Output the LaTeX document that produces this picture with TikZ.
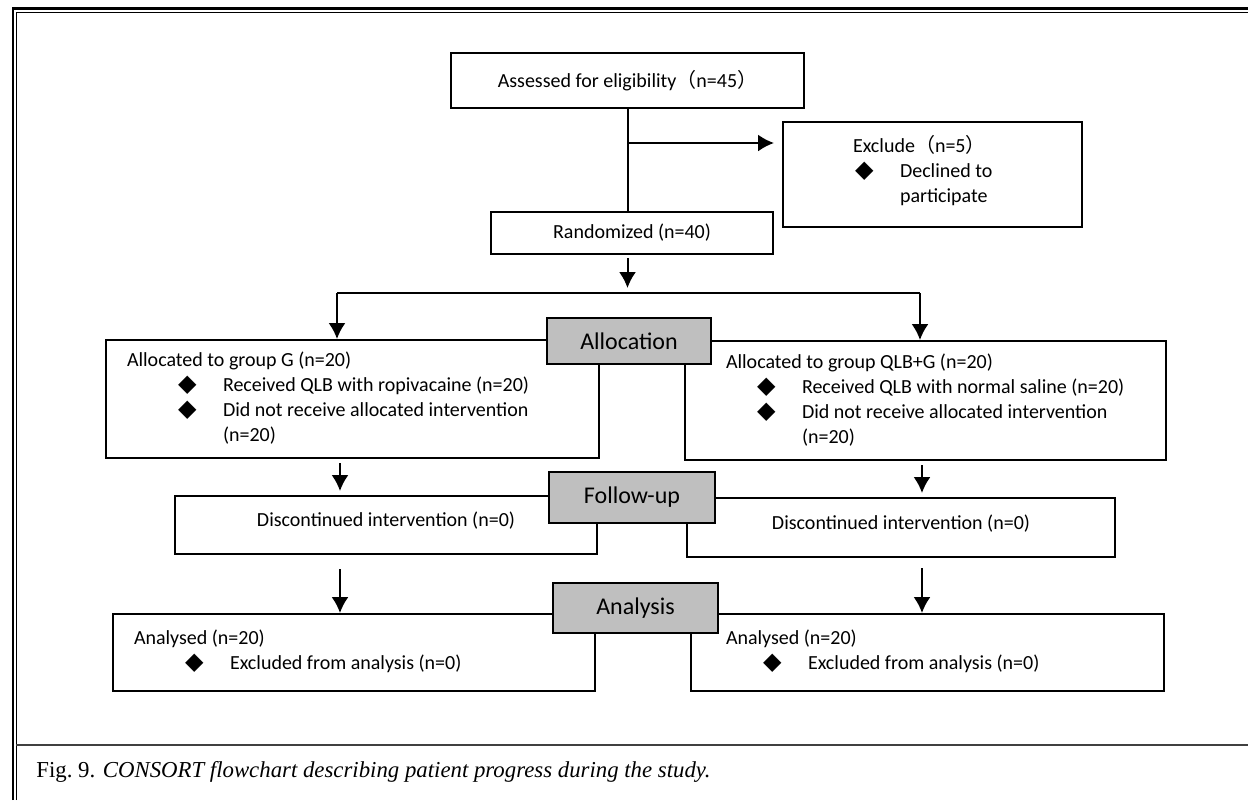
\documentclass[tikz,border=0pt]{standalone}
\usepackage{fontspec}
\setmainfont{Carlito}
\newfontfamily\capfont{Liberation Serif}
\newfontfamily\symfont{DejaVu Sans}
\newfontfamily\cjkfont{Noto Sans CJK SC}
\usepackage{tikz}
\usetikzlibrary{arrows.meta}
\definecolor{stagegray}{gray}{0.75}
\newcommand{\dia}[1]{\hspace*{#1}{\symfont\fontsize{12}{12.5}\selectfont ◆}}
\newcommand{\lp}{{\cjkfont （}}
\newcommand{\rp}{{\cjkfont ）}}

\begin{document}
\begin{tikzpicture}[x=0.5pt,y=-0.5pt,
box/.style={draw,line width=1pt,anchor=north west,inner sep=0pt,font=\fontsize{10}{12.5}\selectfont},
lbox/.style={box,align=left,execute at begin node={\spaceskip=0pt\xspaceskip=0pt\relax}},
stage/.style={draw,line width=1pt,fill=stagegray,anchor=north west,inner sep=0pt,font=\fontsize{12}{14}\selectfont},
edge/.style={-{Latex[length=8pt,width=8.5pt]},line width=1pt}]

\useasboundingbox (0,0) rectangle (1248,800);

% frame
\draw[line width=1.3pt] (13,800) -- (13,8.5) -- (1248,8.5);
\draw[line width=0.5pt] (16,800) -- (16,12) -- (1248,12);
\draw[line width=0.7pt,black!75] (16,745) -- (1248,745);

% nodes
\node[box,minimum width=176.5pt,minimum height=27.5pt] (assess) at (450,52) {Assessed for eligibility\lp n=45\rp};
\node[lbox,minimum width=149.5pt,minimum height=52.5pt,inner xsep=35pt,text width=79.5pt] (excl) at (782,121)
  {\begin{tabular}{@{}p{23.5pt}@{}l@{}}
   \multicolumn{2}{@{}l@{}}{Exclude\lp n=5\rp}\\
   \dia{1pt} & Declined to\\
   & participate\\[2.5pt]
   \end{tabular}};
\node[box,minimum width=141pt,minimum height=21pt] (rand) at (490,211) {Randomized (n=40)};

\node[lbox,minimum width=246.5pt,minimum height=59pt,inner xsep=10.5pt,text width=225.5pt] (allocL) at (105,339)
  {\begin{tabular}{@{}p{48pt}@{}l@{}}
   \multicolumn{2}{@{}l@{}}{Allocated to group G (n=20)}\\
   \dia{25.5pt} & Received QLB with ropivacaine (n=20)\\
   \dia{25.5pt} & Did not receive allocated intervention\\
   & (n=20)
   \end{tabular}};
\node[lbox,minimum width=240.5pt,minimum height=59.5pt,inner xsep=20.5pt,text width=199.5pt] (allocR) at (684,340)
  {\begin{tabular}{@{}p{38pt}@{}l@{}}
   \multicolumn{2}{@{}l@{}}{Allocated to group QLB+G (n=20)}\\
   \dia{15.5pt} & Received QLB with normal saline (n=20)\\
   \dia{15.5pt} & Did not receive allocated intervention\\
   & (n=20)
   \end{tabular}};

\node[box,minimum width=211pt,minimum height=29pt,text depth=5.5pt] (discL) at (174,495) {Discontinued intervention (n=0)};
\node[box,minimum width=214pt,minimum height=29.5pt,text depth=5.5pt] (discR) at (686,497) {Discontinued intervention (n=0)};

\node[lbox,minimum width=241pt,minimum height=38.5pt,inner xsep=10.5pt,text width=220pt] (anaL) at (112,613)
  {\begin{tabular}{@{}p{48pt}@{}l@{}}
   \multicolumn{2}{@{}l@{}}{Analysed (n=20)}\\
   \dia{25.5pt} & Excluded from analysis (n=0)\\[1pt]
   \end{tabular}};
\node[lbox,minimum width=236.5pt,minimum height=38.5pt,inner xsep=17.5pt,text width=201.5pt] (anaR) at (690,613)
  {\begin{tabular}{@{}p{41pt}@{}l@{}}
   \multicolumn{2}{@{}l@{}}{Analysed (n=20)}\\
   \dia{18.5pt} & Excluded from analysis (n=0)\\[1pt]
   \end{tabular}};

% stages
\node[stage,minimum width=82pt,minimum height=23pt] (stAlloc) at (546,317) {Allocation};
\node[stage,minimum width=83pt,minimum height=25.5pt] (stFollow) at (548,471) {Follow-up};
\node[stage,minimum width=82.5pt,minimum height=25pt] (stAnal) at (552,582) {Analysis};

% helper points
\path (assess.south) ++(0,34) coordinate (split);
\coordinate (forkL) at (337,293);
\coordinate (forkR) at (920,293);
\coordinate (colL) at (340,0);
\coordinate (colR) at (922,0);

% edges
\draw[line width=1pt] (assess.south) -- (assess.south |- rand.north);
\draw[edge,shorten >=4pt] (split) -- (split -| excl.west);
\draw[edge,shorten <=1.5pt,shorten >=2.5pt] (rand.south -| assess.south) -- (forkL -| assess.south);
\draw[line width=1pt] (forkL) -- (forkR);
\draw[edge] (forkL) -- (forkL |- allocL.north);
\draw[edge] (forkR) -- (forkR |- allocR.north);
\draw[edge,shorten <=2pt,shorten >=2pt] (allocL.south -| colL) -- (discL.north -| colL);
\draw[edge,shorten <=2pt,shorten >=2pt] (allocR.south -| colR) -- (discR.north -| colR);
\draw[edge,shorten <=7pt] (discL.south -| colL) -- (anaL.north -| colL);
\draw[edge,shorten <=5pt] (discR.south -| colR) -- (anaR.north -| colR);

% caption
\node[anchor=base west,inner sep=0pt,font=\capfont\fontsize{11.4}{13}\selectfont] (caption) at (36,777)
  {Fig.~9. \textit{CONSORT flowchart describing patient progress during the study.}};

\end{tikzpicture}
\end{document}
